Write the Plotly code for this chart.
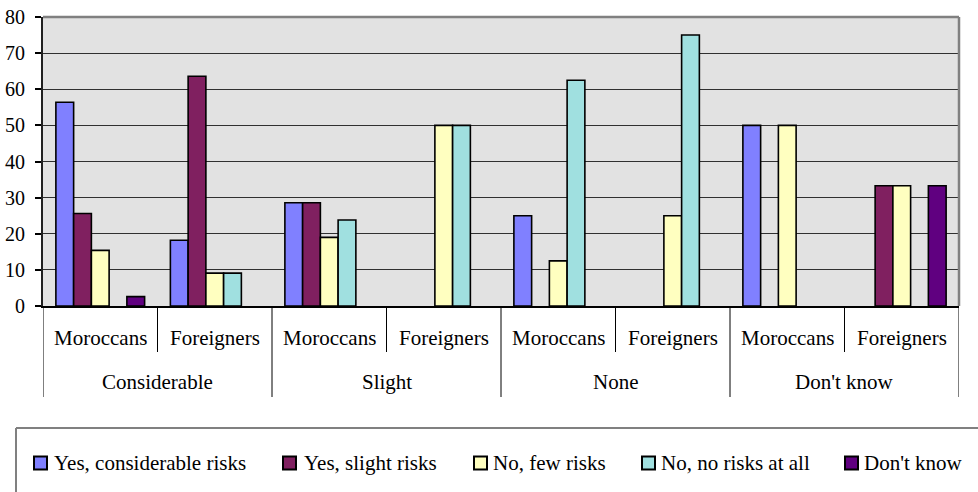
import plotly.graph_objects as go

# ---- data -----------------------------------------------------------------
groups = ["Considerable", "Slight", "None", "Don't know"]
subgroups = ["Moroccans", "Foreigners"]
series_names = ["Yes, considerable risks", "Yes, slight risks", "No, few risks",
                "No, no risks at all", "Don't know"]

# one value per (group, subgroup) pair, in the order of the x positions
yes_considerable = [56.4, 18.2, 28.6, 0, 25.0, 0, 50.0, 0]
yes_slight = [25.6, 63.6, 28.6, 0, 0, 0, 0, 33.3]
no_few = [15.4, 9.1, 19.0, 50.0, 12.5, 25.0, 50.0, 33.3]
no_none = [0, 9.1, 23.8, 50.0, 62.5, 75.0, 0, 0]
dont_know = [2.6, 0, 0, 0, 0, 0, 0, 33.3]

y_ticks = [0, 10, 20, 30, 40, 50, 60, 70, 80]

# ---- styling --------------------------------------------------------------
series_values = [yes_considerable, yes_slight, no_few, no_none, dont_know]
series_colors = ["#8080FF", "#802060", "#FFFFC0", "#A0E0E0", "#600080"]
FONT = "Liberation Serif"
LABEL_SIZE = 21

W, H = 978, 492
L, R, T, B = 43, 19, 17, 186
PW, PH = W - L - R, H - T - B


def px_x(px):
    return (px - L) / PW


def px_y(py):
    return (H - B - py) / PH


n_pos = len(groups) * len(subgroups)
positions = list(range(n_pos))
sub_labels = [subgroups[i % len(subgroups)] for i in positions]

fig = go.Figure()
for name, vals, col in zip(series_names, series_values, series_colors):
    # empty cells are left blank instead of drawing a flat outline at zero
    fig.add_trace(go.Bar(
        x=positions, y=[v if v else None for v in vals], name=name,
        marker=dict(color=col, line=dict(color="#000000", width=1.6)),
        showlegend=False,
    ))

shapes = []
annotations = []

# plot frame: grey top and right edges
shapes.append(dict(type="line", xref="paper", yref="paper", x0=0, x1=1, y0=1, y1=1,
                   line=dict(color="#808080", width=2.5), layer="above"))
shapes.append(dict(type="line", xref="paper", yref="paper", x0=1, x1=1, y0=0, y1=1,
                   line=dict(color="#808080", width=2.5), layer="above"))

# two-level category axis: dividers and labels
for i in range(n_pos + 1):
    xb = i - 0.5
    is_group_edge = (i % len(subgroups) == 0)
    shapes.append(dict(type="line", xref="x", yref="paper", x0=xb, x1=xb,
                       y0=0, y1=px_y(397 if is_group_edge else 352),
                       line=dict(color="#000000", width=1)))
for i, lab in zip(positions, sub_labels):
    annotations.append(dict(x=i, y=px_y(338), xref="x", yref="paper", text=lab,
                            showarrow=False, xanchor="center", yanchor="middle",
                            font=dict(family=FONT, size=LABEL_SIZE, color="#000000")))
for g, lab in enumerate(groups):
    xc = g * len(subgroups) + (len(subgroups) - 1) / 2
    annotations.append(dict(x=xc, y=px_y(382), xref="x", yref="paper", text=lab,
                            showarrow=False, xanchor="center", yanchor="middle",
                            font=dict(family=FONT, size=LABEL_SIZE, color="#000000")))

# legend frame: only its top and left edges fall inside the page
shapes.append(dict(type="line", xref="paper", yref="paper",
                   x0=px_x(16), x1=px_x(W + 5), y0=px_y(428), y1=px_y(428),
                   line=dict(color="#808080", width=2)))
shapes.append(dict(type="line", xref="paper", yref="paper",
                   x0=px_x(16), x1=px_x(16), y0=px_y(428), y1=px_y(H + 5),
                   line=dict(color="#808080", width=2)))
swatch_left = [34, 283, 474, 642, 845]
text_left = [52, 302, 491, 659, 862]
leg_y = 463
for sx, tx, name, col in zip(swatch_left, text_left, series_names, series_colors):
    shapes.append(dict(type="rect", xref="paper", yref="paper",
                       x0=px_x(sx), x1=px_x(sx + 13), y0=px_y(leg_y - 6.5), y1=px_y(leg_y + 6.5),
                       line=dict(color="#000000", width=2), fillcolor=col))
    annotations.append(dict(x=px_x(tx), y=px_y(leg_y), xref="paper", yref="paper", text=name,
                            showarrow=False, xanchor="left", yanchor="middle",
                            font=dict(family=FONT, size=LABEL_SIZE, color="#000000")))

fig.update_layout(
    width=W, height=H,
    margin=dict(l=L, r=R, t=T, b=B, pad=0, autoexpand=False),
    paper_bgcolor="#FFFFFF",
    plot_bgcolor="#E2E2E2",
    barmode="group",
    bargap=0.225,
    bargroupgap=0,
    showlegend=False,
    font=dict(family=FONT, size=20, color="#000000"),
    shapes=shapes,
    annotations=annotations,
    xaxis=dict(range=[-0.5, n_pos - 0.5], showticklabels=False, ticks="",
               showgrid=False, zeroline=False, showline=True, automargin=False,
               linecolor="#000000", linewidth=1.5, fixedrange=True),
    yaxis=dict(range=[0, 80], tickvals=y_ticks, ticks="outside", ticklen=6,
               tickcolor="#000000", tickwidth=1.5, ticklabelstandoff=6,
               showgrid=True, gridcolor="#303030", gridwidth=1, automargin=False,
               zeroline=False, showline=True, linecolor="#202020", linewidth=2,
               tickfont=dict(family=FONT, size=20, color="#000000"), fixedrange=True),
)

# the page body gets no default margin so the figure sits at the window origin
fig.write_html("out.html", post_script="document.body.style.margin='0';")
